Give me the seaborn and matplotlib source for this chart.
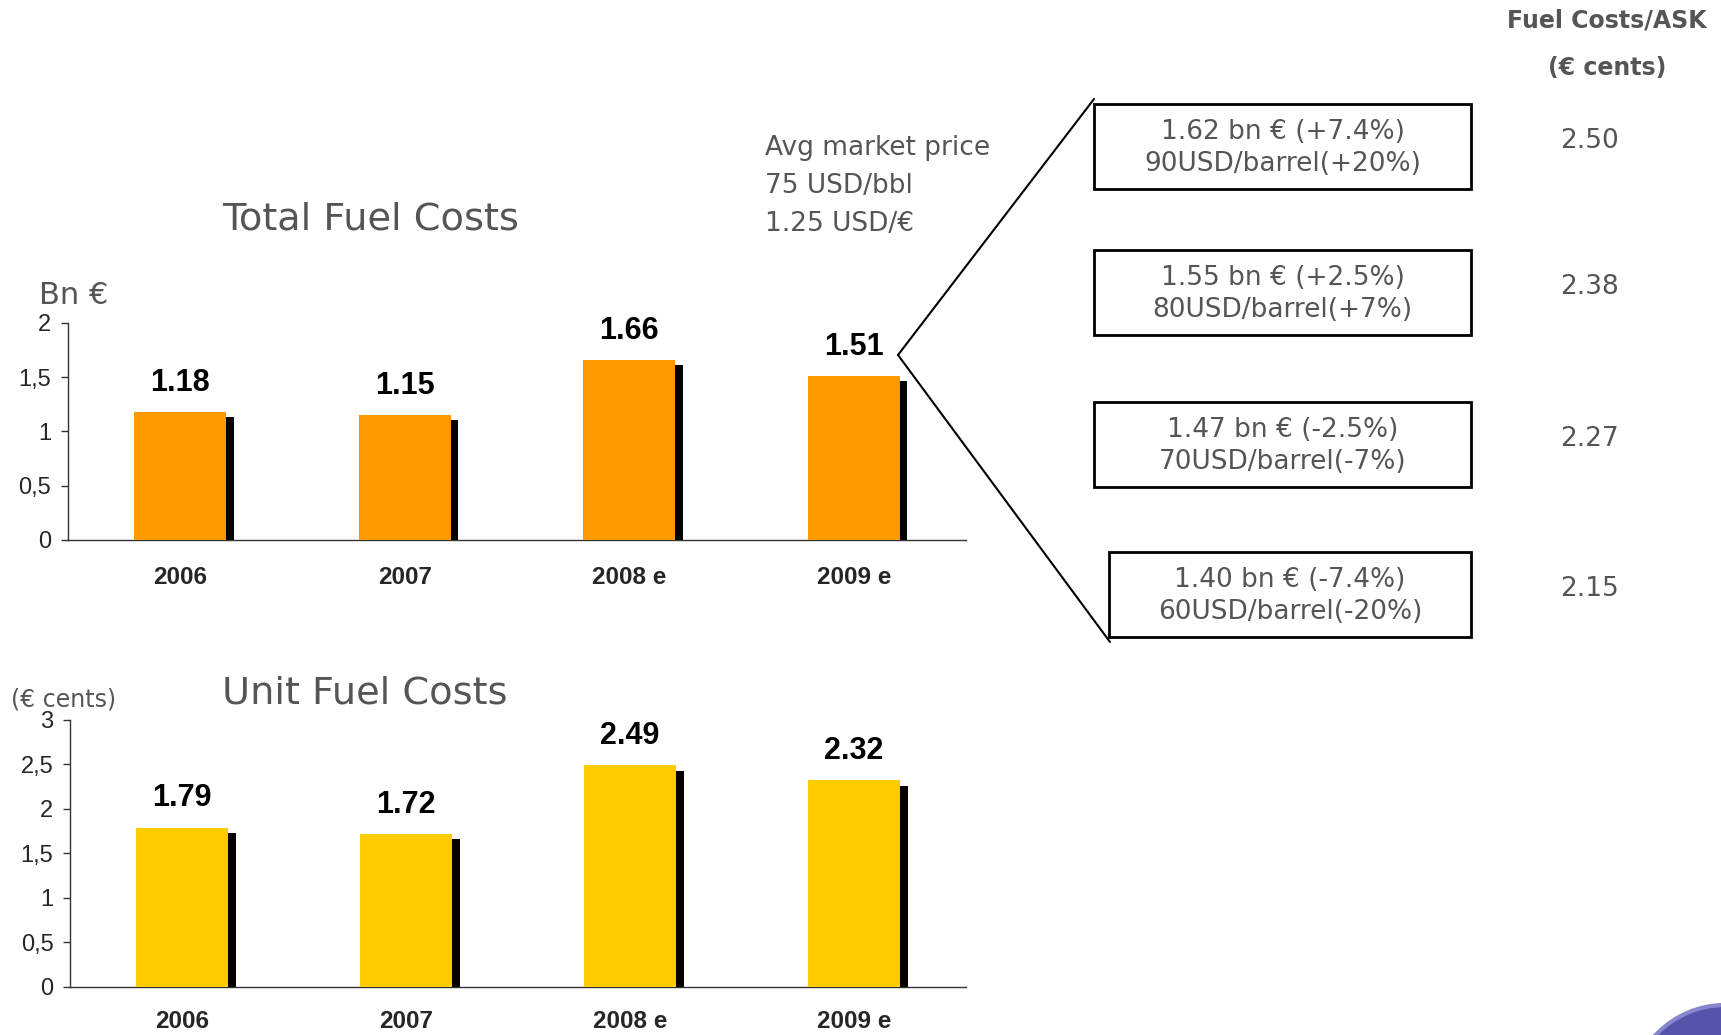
import numpy as np
import pandas as pd
import seaborn as sns
import matplotlib.pyplot as plt
from matplotlib.patches import Rectangle, Circle
from matplotlib.ticker import FixedLocator, FuncFormatter

# ----- Data ----- #
years = ["2006", "2007", "2008 e", "2009 e"]
total_fuel = [1.18, 1.15, 1.66, 1.51]
unit_fuel = [1.79, 1.72, 2.49, 2.32]

scenario_costs = ["1.62 bn € (+7.4%)", "1.55 bn € (+2.5%)",
                  "1.47 bn € (-2.5%)", "1.40 bn € (-7.4%)"]
scenario_prices = ["90USD/barrel(+20%)", "80USD/barrel(+7%)",
                   "70USD/barrel(-7%)", "60USD/barrel(-20%)"]
scenario_ask = ["2.50", "2.38", "2.27", "2.15"]
market_lines = ["Avg market price", "75 USD/bbl", "1.25 USD/€"]

ORANGE = "#FF9900"
YELLOW = "#FFCC00"
GREY = "#555555"

sns.set_style("white")
plt.rcParams["font.family"] = ["Liberation Sans", "DejaVu Sans"]

fig = plt.figure(figsize=(17.21, 10.35), dpi=100)
ax_top = fig.add_axes([0.0395, 0.4783, 0.5218, 0.2097])
ax_bot = fig.add_axes([0.0407, 0.0464, 0.5206, 0.2580])

BAR_W = 0.41
SHADOW_W = 0.034


def fuel_bars(ax, values, color, ymax, step, shadow_drop, xpad):
    df = pd.DataFrame({"Year": years, "Value": values})
    sns.barplot(data=df, x="Year", y="Value", color=color, width=BAR_W,
                saturation=1, linewidth=0, ax=ax, zorder=3)
    # dark side shadow on the right of every bar
    xs = np.arange(len(values)) + BAR_W / 2 + SHADOW_W / 2
    ax.bar(xs, np.array(values) - shadow_drop, width=SHADOW_W, color="black",
           linewidth=0, zorder=2)
    for i, v in enumerate(values):
        ax.annotate(f"{v:.2f}", (i, v), xytext=(0, 21), textcoords="offset points",
                    ha="center", va="center", fontsize=22, fontweight="bold",
                    color="black")
    ax.set_xlim(-0.5, len(values) - 0.5)
    ax.set_ylim(0, ymax)
    ax.set_yticks(np.arange(0, ymax + step / 2, step))
    ax.yaxis.set_major_formatter(FuncFormatter(lambda v, _: f"{v:g}".replace(".", ",")))
    ax.set_xlabel("")
    ax.set_ylabel("")
    ax.patch.set_visible(False)
    ax.xaxis.set_minor_locator(FixedLocator(np.arange(-0.5, len(values), 1.0)))
    ax.tick_params(axis="x", which="major", length=0, pad=xpad, labelsize=17.5)
    ax.tick_params(axis="x", which="minor", length=5, width=1, color="#333333")
    ax.tick_params(axis="y", length=5, width=1, color="#333333", labelsize=17,
                   left=True, pad=7)
    for lbl in ax.get_xticklabels():
        lbl.set_fontweight("bold")
    for s in ["top", "right"]:
        ax.spines[s].set_visible(False)
    for s in ["left", "bottom"]:
        ax.spines[s].set_color("#333333")
        ax.spines[s].set_linewidth(1)


fuel_bars(ax_top, total_fuel, ORANGE, 2, 0.5, 0.045, 19)
fuel_bars(ax_bot, unit_fuel, YELLOW, 3, 0.5, 0.06, 16.5)

# ----- Overlay for annotations (pixel coordinates) ----- #
ov = fig.add_axes([0, 0, 1, 1], zorder=-1)
ov.set_xlim(0, 1721)
ov.set_ylim(1035, 0)
ov.axis("off")

title_font = dict(family=["DejaVu Sans"], color=GREY)
ov.text(222, 220, "Total Fuel Costs", fontsize=27.5, va="center", ha="left", **title_font)
ov.text(39, 296, "Bn €", fontsize=22, va="center", ha="left", **title_font)
ov.text(222, 693, "Unit Fuel Costs", fontsize=27.5, va="center", ha="left", **title_font)
ov.text(11, 699, "(€ cents)", fontsize=17, va="center", ha="left", **title_font)

for i, line in enumerate(market_lines):
    ov.text(765, 148 + i * 38, line, fontsize=19, va="center", ha="left", **title_font)

# fan lines from the 2009 bar to the scenario boxes
ov.plot([898, 1094], [355, 99], color="black", lw=1.5)
ov.plot([898, 1110], [355, 642], color="black", lw=1.5)

box_top = [104, 250, 402, 552]
for i in range(4):
    x0 = 1094 if i < 3 else 1109
    y0 = box_top[i]
    ov.add_patch(Rectangle((x0, y0), 1471 - x0, 85, facecolor="white",
                           edgecolor="black", lw=2, zorder=3))
    cx = (x0 + 1471) / 2
    ov.text(cx, y0 + 28, scenario_costs[i], fontsize=19, ha="center", va="center",
            zorder=4, **title_font)
    ov.text(cx, y0 + 60, scenario_prices[i], fontsize=19, ha="center", va="center",
            zorder=4, **title_font)
    ov.text(1589, y0 + 37, scenario_ask[i], fontsize=19, ha="center", va="center",
            **title_font)

ov.text(1607, 20, "Fuel Costs/ASK", fontsize=17, fontweight="bold", ha="center",
        va="center", **title_font)
ov.text(1607, 68, "(€ cents)", fontsize=17, fontweight="bold", ha="center",
        va="center", **title_font)

# corner logo fragment
ov.add_patch(Circle((1725, 1100), 95, facecolor="#5552aa", edgecolor="#8886cc", lw=3))

fig.savefig("out.png", dpi=100, facecolor="white")
